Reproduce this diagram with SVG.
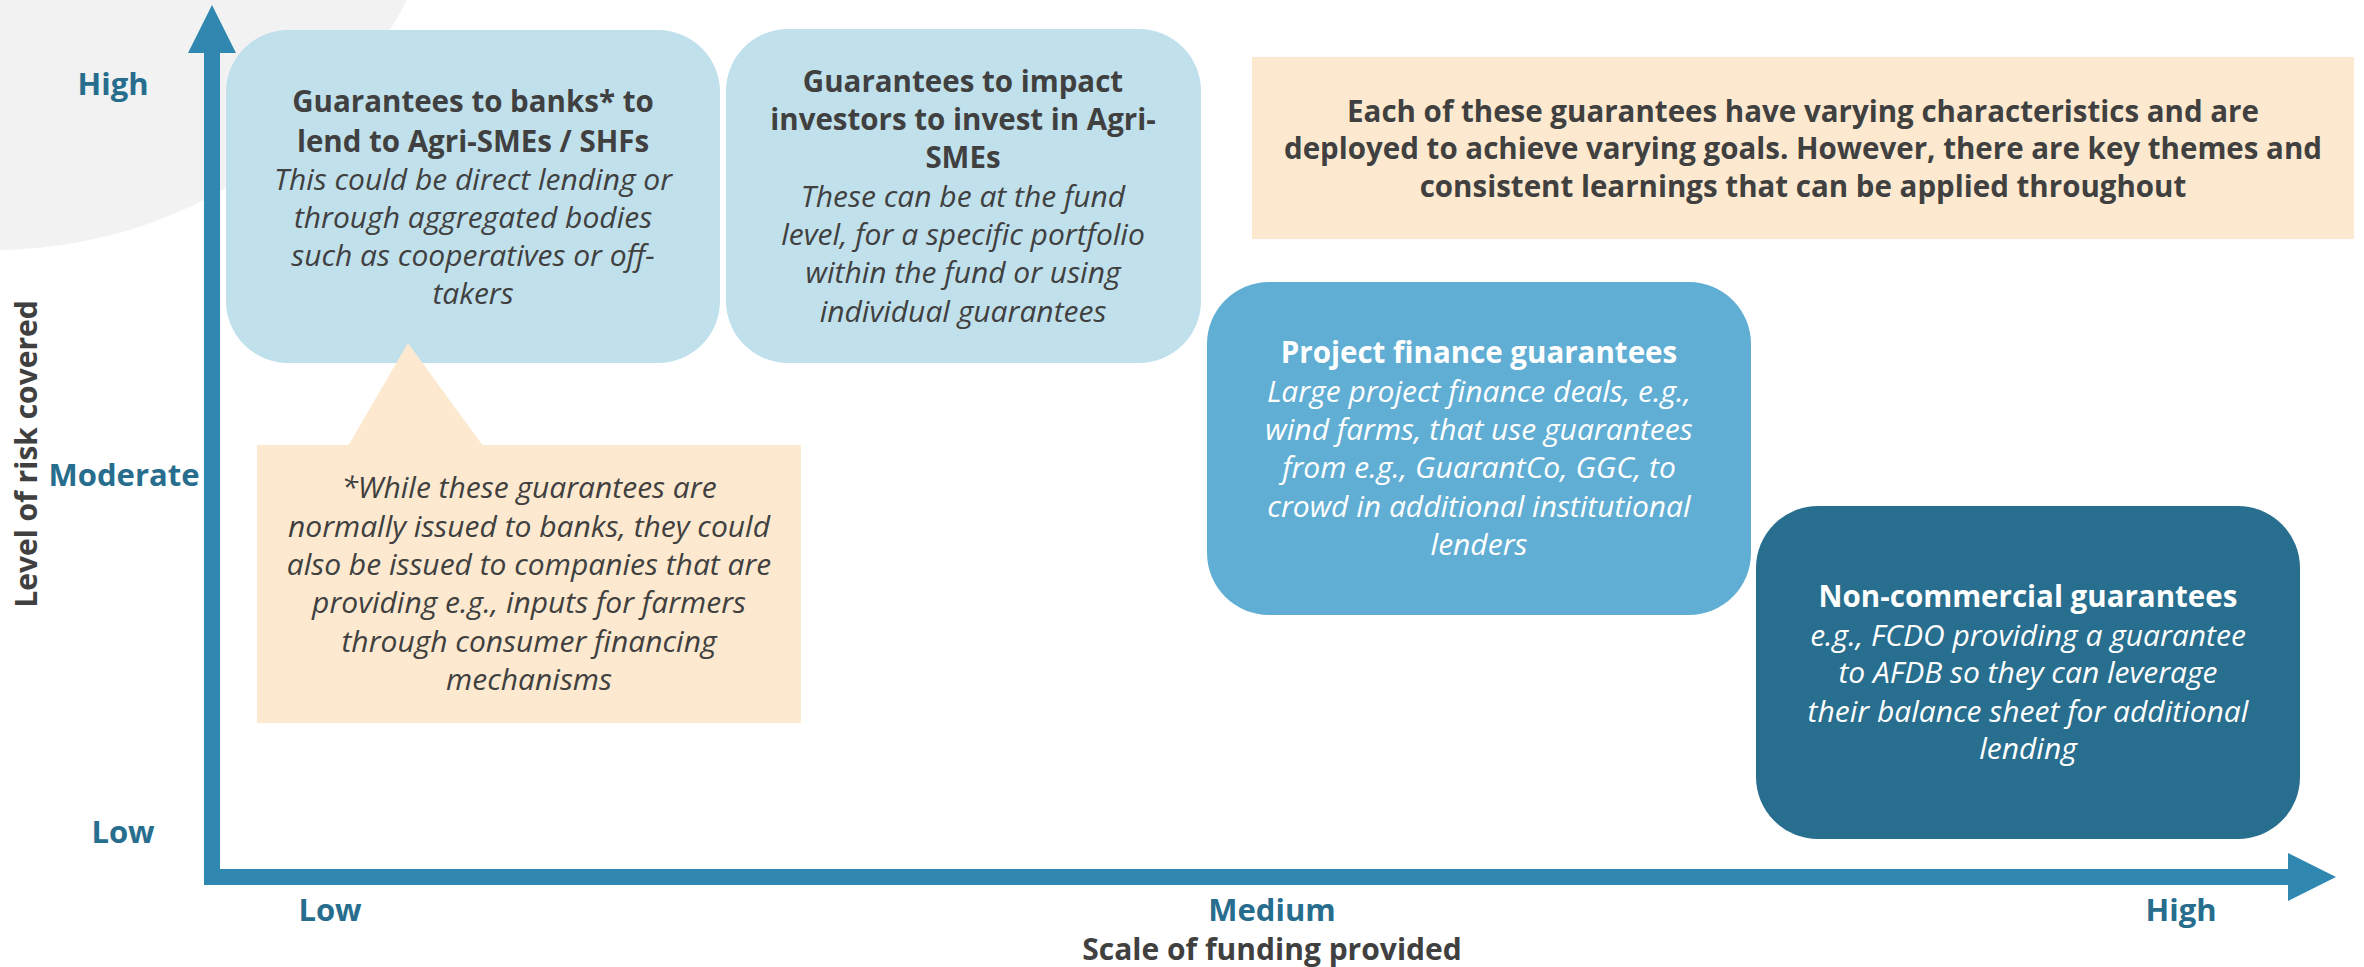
<svg xmlns="http://www.w3.org/2000/svg" width="2364" height="967" viewBox="0 0 2364 967">
<defs>
<style>
text{font-family:"Open Sans","Noto Sans","DejaVu Sans",sans-serif;text-anchor:middle}
.b{font-weight:700;font-size:29.5px}
.i{font-style:italic;font-weight:400;font-size:30px}
.dk{fill:#404040}
.wh{fill:#ffffff}
.ax{font-weight:700;font-size:31px;fill:#276d8e}
.tt{font-weight:700;font-size:30px;fill:#404040}
.axis{fill:#3088b0}
</style>
</defs>
<rect x="0" y="0" width="2364" height="967" fill="#ffffff"/>
<circle cx="-6" cy="-216" r="466" fill="#f2f2f2"/>

<g id="axes">
<rect class="axis" x="204" y="50" width="16" height="835"/>
<polygon class="axis" points="212,5 236,53 188,53"/>
<rect class="axis" x="204" y="869" width="2088" height="16"/>
<polygon class="axis" points="2336,877 2288,853 2288,901"/>
</g>

<g id="axis-labels">
<text class="ax" x="113" y="95">High</text>
<text class="ax" x="124" y="486">Moderate</text>
<text class="ax" x="123" y="843">Low</text>
<text class="ax" x="330" y="921">Low</text>
<text class="ax" x="1272" y="921">Medium</text>
<text class="ax" x="2181" y="921">High</text>
<text class="tt" x="1272" y="960">Scale of funding provided</text>
<text class="tt" transform="translate(37,454) rotate(-90)">Level of risk covered</text>
</g>

<g id="node-banks">
<rect x="226" y="30" width="494" height="333" rx="62" ry="62" fill="#c0e0ec"/>
<text class="b dk" x="473" y="112">Guarantees to banks* to</text>
<text class="b dk" x="473" y="152">lend to Agri-SMEs / SHFs</text>
<text class="i dk" x="473" y="190">This could be direct lending or</text>
<text class="i dk" x="473" y="228">through aggregated bodies</text>
<text class="i dk" x="473" y="266">such as cooperatives or off-</text>
<text class="i dk" x="473" y="304">takers</text>
</g>

<g id="node-impact">
<rect x="726" y="29" width="475" height="334" rx="62" ry="62" fill="#c0e0ec"/>
<text class="b dk" x="963" y="92">Guarantees to impact</text>
<text class="b dk" x="963" y="130">investors to invest in Agri-</text>
<text class="b dk" x="963" y="168">SMEs</text>
<text class="i dk" x="963" y="207">These can be at the fund</text>
<text class="i dk" x="963" y="245">level, for a specific portfolio</text>
<text class="i dk" x="963" y="283">within the fund or using</text>
<text class="i dk" x="963" y="322">individual guarantees</text>
</g>

<g id="node-note">
<polygon points="348,446 408,343 483,446" fill="#fce9cf"/>
<rect x="257" y="445" width="544" height="278" fill="#fce9cf"/>
<text class="i dk" x="529" y="498">*While these guarantees are</text>
<text class="i dk" x="529" y="537">normally issued to banks, they could</text>
<text class="i dk" x="529" y="575">also be issued to companies that are</text>
<text class="i dk" x="529" y="613">providing e.g., inputs for farmers</text>
<text class="i dk" x="529" y="652">through consumer financing</text>
<text class="i dk" x="529" y="690">mechanisms</text>
</g>

<g id="node-summary">
<rect x="1252" y="57" width="1102" height="182" fill="#fce9cf"/>
<text class="b dk" x="1803" y="122">Each of these guarantees have varying characteristics and are</text>
<text class="b dk" x="1803" y="159">deployed to achieve varying goals. However, there are key themes and</text>
<text class="b dk" x="1803" y="197">consistent learnings that can be applied throughout</text>
</g>

<g id="node-project">
<rect x="1207" y="282" width="544" height="333" rx="62" ry="62" fill="#61aed4"/>
<text class="b wh" x="1479" y="363">Project finance guarantees</text>
<text class="i wh" x="1479" y="402">Large project finance deals, e.g.,</text>
<text class="i wh" x="1479" y="440">wind farms, that use guarantees</text>
<text class="i wh" x="1479" y="478">from e.g., GuarantCo, GGC, to</text>
<text class="i wh" x="1479" y="517">crowd in additional institutional</text>
<text class="i wh" x="1479" y="555">lenders</text>
</g>

<g id="node-noncommercial">
<rect x="1756" y="506" width="544" height="333" rx="62" ry="62" fill="#286e8e"/>
<text class="b wh" x="2028" y="607">Non-commercial guarantees</text>
<text class="i wh" x="2028" y="646">e.g., FCDO providing a guarantee</text>
<text class="i wh" x="2028" y="683">to AFDB so they can leverage</text>
<text class="i wh" x="2028" y="722">their balance sheet for additional</text>
<text class="i wh" x="2028" y="759">lending</text>
</g>
</svg>
